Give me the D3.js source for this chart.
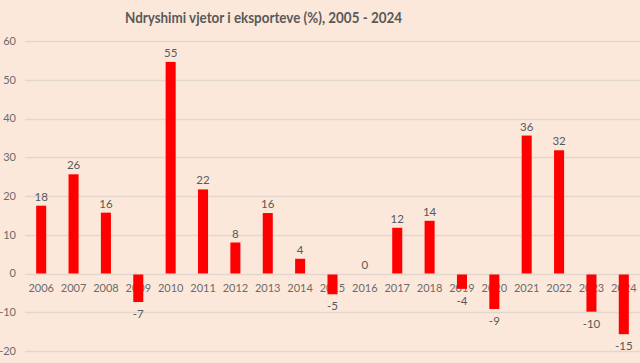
<!DOCTYPE html>
<html>
<head>
<meta charset="utf-8">
<script src="https://cdn.jsdelivr.net/npm/d3@7"></script>
<style>
  html, body { margin: 0; padding: 0; background: #FCE8DA; }
  svg { display: block; }
</style>
</head>
<body>
<svg id="chart" width="640" height="363"></svg>
<script>
const title = "Ndryshimi vjetor i eksporteve (%), 2005 - 2024";
const years = ["2006","2007","2008","2009","2010","2011","2012","2013","2014","2015","2016","2017","2018","2019","2020","2021","2022","2023","2024"];
const changes = [17.5, 25.6, 15.7, -7.1, 54.6, 21.7, 8.0, 15.6, 3.8, -5.1, 0, 11.8, 13.6, -3.7, -8.9, 35.6, 31.8, -9.6, -15.4];
const yTicks = [60, 50, 40, 30, 20, 10, 0, -10, -20];

const W = 640, H = 363;
const svg = d3.select("#chart");
svg.append("rect").attr("width", W).attr("height", H).attr("fill", "#FCE8DA");

const x = d3.scaleBand().domain(years).range([25, 640]).paddingInner(0.69).paddingOuter(0.345);
const y = d3.scaleLinear().domain([-20, 60]).range([351, 41]);

const font = "Lato, 'Open Sans', sans-serif";
const gray = "#595959";
const fmt = d3.formatLocale({decimal: ".", thousands: ",", grouping: [3], currency: ["", ""], minus: "-"}).format(".0f");

// gridlines
svg.append("g").selectAll("line").data(yTicks).join("line")
  .attr("x1", 25).attr("x2", 640)
  .attr("y1", d => Math.round(y(d)) + 0.5).attr("y2", d => Math.round(y(d)) + 0.5)
  .attr("stroke", "#E3D6CD").attr("stroke-width", 1.3);

// y tick labels
svg.append("g").selectAll("text").data(yTicks).join("text")
  .attr("x", 16).attr("y", d => y(d)).attr("dy", "0.35em")
  .attr("text-anchor", "end").attr("font-family", font).attr("font-size", 11)
  .attr("fill", "#6b6b6b").text(d => fmt(d));

// x labels
svg.append("g").selectAll("text").data(years).join("text")
  .attr("x", d => x(d) + x.bandwidth() / 2).attr("y", y(0) + 15).attr("dy", "0.35em")
  .attr("text-anchor", "middle").attr("font-family", font).attr("font-size", 11)
  .attr("fill", "#6b6b6b").text(d => d);

// bars
svg.append("g").selectAll("rect").data(changes).join("rect")
  .attr("x", (d, i) => x(years[i]))
  .attr("width", x.bandwidth())
  .attr("y", d => d >= 0 ? y(d) : y(0) + 1)
  .attr("height", d => Math.abs(y(d) - y(0)))
  .attr("fill", "#FF0000");

// value labels
svg.append("g").selectAll("text").data(changes).join("text")
  .attr("x", (d, i) => x(years[i]) + x.bandwidth() / 2)
  .attr("y", d => d >= 0 ? y(d) - 9 : y(d) + 13)
  .attr("dy", "0.35em")
  .attr("text-anchor", "middle").attr("font-family", font).attr("font-size", 11.5)
  .attr("fill", gray).text(d => fmt(d));

// title
svg.append("text").attr("x", 263.5).attr("y", 18).attr("dy", "0.35em")
  .attr("text-anchor", "middle").attr("font-family", font).attr("font-weight", "bold")
  .attr("font-size", 15).attr("fill", gray)
  .attr("textLength", 277).attr("lengthAdjust", "spacingAndGlyphs")
  .text(title);
</script>
</body>
</html>
